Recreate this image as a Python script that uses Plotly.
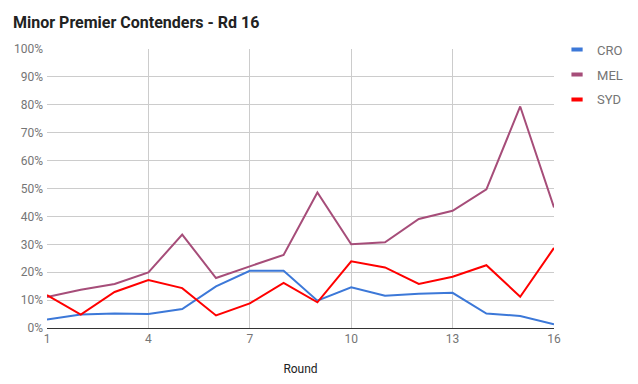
import plotly.graph_objects as go

rounds = list(range(1, 17))
cro = [3.0, 4.8, 5.2, 5.0, 6.8, 14.9, 20.5, 20.5, 9.8, 14.6, 11.6, 12.3, 12.6, 5.2, 4.3, 1.3]
mel = [11.1, 13.7, 15.8, 19.9, 33.5, 17.9, 22.1, 26.2, 48.6, 30.0, 30.7, 39.1, 42.0, 49.7, 79.4, 43.2]
syd = [11.8, 4.8, 12.9, 17.2, 14.3, 4.5, 8.8, 16.2, 9.2, 23.9, 21.7, 15.8, 18.4, 22.5, 11.2, 28.7]
series_names = ["CRO", "MEL", "SYD"]
colors = ["#3c78d8", "#a64d79", "#ff0000"]
x_ticks = [1, 4, 7, 10, 13, 16]

W, H = 630, 376  # page body has an 8px margin

fig = go.Figure()
for name, vals, c in zip(series_names, [cro, mel, syd], colors):
    fig.add_trace(go.Scatter(x=rounds, y=vals, mode="lines", name=name,
                             line=dict(color=c, width=2), showlegend=False,
                             hovertemplate="%{y:.1f}%<extra>" + name + "</extra>"))
for i, (name, c) in enumerate(zip(series_names, colors)):
    fig.add_trace(go.Scatter(x=[None], y=[None], mode="markers", name=name,
                             marker=dict(symbol="line-ew", size=8,
                                         line=dict(color=c, width=4)),
                             legendgroup=name, showlegend=True))

fig.update_layout(
    width=W, height=H,
    margin=dict(l=39, r=84, t=41, b=56, autoexpand=False),
    paper_bgcolor="white", plot_bgcolor="white",
    font=dict(family="Roboto", size=12, color="#757575"),
    title=dict(text="<b>Minor Premier Contenders - Rd 16</b>",
               font=dict(family="Roboto", size=16, color="#222222"),
               xref="container", x=5 / W, xanchor="left",
               yref="container", y=1 - 14 / H, yanchor="middle"),
    legend=dict(x=1.006, xanchor="left", y=1.0515, yanchor="top",
                font=dict(size=13, color="#757575"),
                tracegroupgap=5, bgcolor="rgba(0,0,0,0)"),
    xaxis=dict(range=[1, 16], tickvals=x_ticks, showgrid=True, gridcolor="#cccccc",
               gridwidth=1, zeroline=False, showline=True, linecolor="#333333",
               linewidth=1, ticks="", tickfont=dict(size=12, color="#757575"),
               automargin=False,
               title=dict(text="Round", font=dict(size=12, color="#222222"), standoff=19)),
    yaxis=dict(range=[0, 100], dtick=10, ticksuffix="%", showgrid=True,
               gridcolor="#cccccc", gridwidth=1, zeroline=False, showline=False,
               automargin=False,
               ticks="", tickfont=dict(size=12, color="#757575"), ticklabelstandoff=3),
)
fig.write_html("out.html")
